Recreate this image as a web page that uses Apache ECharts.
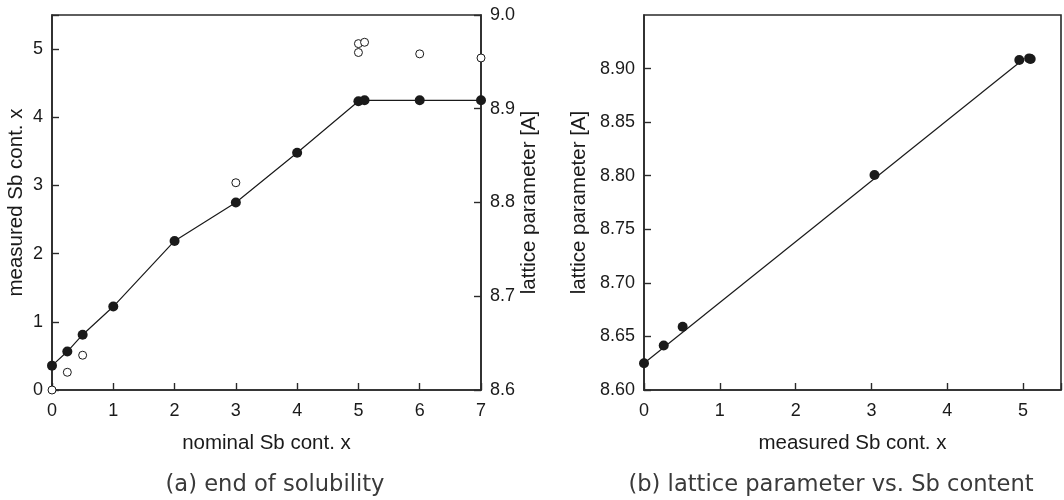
<!DOCTYPE html>
<html>
<head>
<meta charset="utf-8">
<script src="https://cdn.jsdelivr.net/npm/echarts@6/dist/echarts.min.js"></script>
<style>
  html, body { margin: 0; padding: 0; background: #fff; }
  #chart { width: 1064px; height: 500px; }
</style>
</head>
<body>
<div id="chart"></div>
<script>
// (a) nominal vs. measured Sb content, with lattice parameter on the right axis
const nominalX      = [0, 0.25, 0.5, 1, 2, 3, 4, 5, 5.1, 6, 7];
const latticeNom    = [8.626, 8.641, 8.659, 8.689, 8.759, 8.800, 8.853, 8.908, 8.909, 8.909, 8.909];
const nominalMeasX  = [0, 0.25, 0.5, 3, 5, 5, 5.1, 6, 7];
const measuredSb    = [0, 0.26, 0.51, 3.04, 4.95, 5.08, 5.10, 4.93, 4.87];

// (b) lattice parameter vs. measured Sb content, with linear fit
const measX         = [0, 0.26, 0.51, 3.04, 4.95, 5.08, 5.10];
const latticeMeas   = [8.625, 8.6415, 8.659, 8.8007, 8.908, 8.9095, 8.909];
const fitX          = [0, 5.0];
const fitY          = [8.625, 8.9085];

const captionA = '(a) end of solubility';
const captionB = '(b) lattice parameter vs. Sb content';

const pairs = (xs, ys) => xs.map((x, i) => [x, ys[i]]);

const INK = '#1a1a1a';
const AXIS = '#2a2a2a';
const tickFont = { fontFamily: 'Liberation Sans', fontSize: 18, color: INK };
const nameFont = { fontFamily: 'Liberation Sans', fontSize: 20.5, color: INK };

function baseAxis(extra) {
  return Object.assign({
    axisLine: { show: true, onZero: false, lineStyle: { color: AXIS, width: 1.6 } },
    axisTick: { show: true, inside: true, length: 7, lineStyle: { color: AXIS, width: 1.4 } },
    splitLine: { show: false },
    nameTextStyle: nameFont
  }, extra);
}

const chart = echarts.init(document.getElementById('chart'), null, { renderer: 'canvas' });

chart.setOption({
  animation: false,
  backgroundColor: '#fff',
  grid: [
    { left: 52, top: 15, width: 429, height: 375, show: true, borderColor: AXIS, borderWidth: 1.6, backgroundColor: 'transparent' },
    { left: 644, top: 15, width: 428.7, height: 375, show: true, borderColor: AXIS, borderWidth: 1.6, backgroundColor: 'transparent' }
  ],
  xAxis: [
    baseAxis({
      gridIndex: 0, type: 'value', min: 0, max: 7, interval: 1,
      name: 'nominal Sb cont. x', nameLocation: 'middle', nameGap: 43,
      axisLabel: Object.assign({ margin: 12 }, tickFont)
    }),
    baseAxis({
      gridIndex: 1, type: 'value', min: 0, max: 5.5, interval: 1,
      name: 'measured Sb cont. x', nameLocation: 'middle', nameGap: 43,
      axisLabel: Object.assign({ margin: 12, formatter: v => Number.isInteger(v) ? String(v) : '' }, tickFont)
    })
  ],
  yAxis: [
    baseAxis({
      gridIndex: 0, type: 'value', min: 0, max: 5.5, interval: 1, position: 'left',
      name: 'measured Sb cont. x', nameLocation: 'middle', nameGap: 25,
      axisLabel: Object.assign({ margin: 9, formatter: v => Number.isInteger(v) ? String(v) : '' }, tickFont)
    }),
    baseAxis({
      gridIndex: 0, type: 'value', min: 8.6, max: 9.0, interval: 0.1, position: 'right',
      name: 'lattice parameter [A]', nameLocation: 'middle', nameGap: 38,
      axisLabel: Object.assign({ margin: 9, formatter: v => v.toFixed(1) }, tickFont)
    }),
    baseAxis({
      gridIndex: 1, type: 'value', min: 8.6, max: 8.95, interval: 0.05, position: 'left',
      name: 'lattice parameter [A]', nameLocation: 'middle', nameGap: 54,
      axisLabel: Object.assign({ margin: 9, showMaxLabel: false, formatter: v => v.toFixed(2) }, tickFont)
    })
  ],
  series: [
    {
      type: 'scatter', xAxisIndex: 0, yAxisIndex: 0,
      data: pairs(nominalMeasX, measuredSb),
      symbol: 'circle', symbolSize: 8,
      itemStyle: { color: '#fff', borderColor: INK, borderWidth: 1, opacity: 1 },
      z: 3
    },
    {
      type: 'line', xAxisIndex: 0, yAxisIndex: 1,
      data: pairs(nominalX, latticeNom),
      symbol: 'circle', symbolSize: 10, showSymbol: true,
      lineStyle: { color: INK, width: 1.2 },
      itemStyle: { color: INK, borderWidth: 0, opacity: 1 },
      z: 4
    },
    {
      type: 'line', xAxisIndex: 1, yAxisIndex: 2,
      data: pairs(fitX, fitY),
      symbol: 'none',
      lineStyle: { color: INK, width: 1.2 },
      z: 3
    },
    {
      type: 'scatter', xAxisIndex: 1, yAxisIndex: 2,
      data: pairs(measX, latticeMeas),
      symbol: 'circle', symbolSize: 10,
      itemStyle: { color: INK, borderWidth: 0, opacity: 1 },
      z: 4
    }
  ],
  graphic: [
    { type: 'text', x: 275, y: 485, style: { text: captionA, font: '22.6px "DejaVu Sans"', fill: '#3a3a3a', align: 'center', verticalAlign: 'middle' } },
    { type: 'text', x: 831, y: 485, style: { text: captionB, font: '22.6px "DejaVu Sans"', fill: '#3a3a3a', align: 'center', verticalAlign: 'middle' } }
  ]
});
</script>
</body>
</html>
